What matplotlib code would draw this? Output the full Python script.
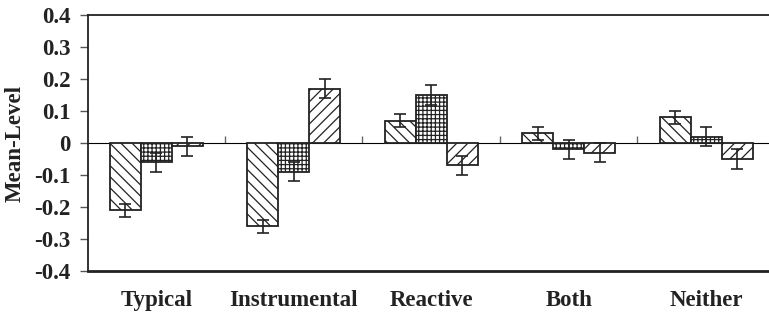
import matplotlib
matplotlib.use("Agg")
import matplotlib.pyplot as plt
import numpy as np

categories = ["Typical", "Instrumental", "Reactive", "Both", "Neither"]
series1 = [-0.21, -0.26, 0.07, 0.03, 0.08]
series2 = [-0.06, -0.09, 0.15, -0.02, 0.02]
series3 = [-0.01, 0.17, -0.07, -0.03, -0.05]
err1 = [0.02, 0.02, 0.02, 0.02, 0.02]
err2 = [0.03, 0.03, 0.03, 0.03, 0.03]
err3 = [0.03, 0.03, 0.03, 0.03, 0.03]
yticks = [0.4, 0.3, 0.2, 0.1, 0, -0.1, -0.2, -0.3, -0.4]
ytick_labels = ["0.4", "0.3", "0.2", "0.1", "0", "-0.1", "-0.2", "-0.3", "-0.4"]

plt.rcParams['font.family'] = ['Liberation Serif', 'DejaVu Serif']
plt.rcParams['hatch.linewidth'] = 0.9

fig = plt.figure(figsize=(7.69, 3.12), dpi=100)
ax = fig.add_axes([87.5/769, 1-271/312, (775-87.5)/769, (271-15)/312])

x = np.arange(len(categories))
w = 0.225
hatches = ['\\\\\\', '++++', '///']
for i, (vals, errs) in enumerate(zip([series1, series2, series3], [err1, err2, err3])):
    pos = x + (i - 1) * w
    ax.bar(pos, vals, w, color='white', edgecolor='#222222', linewidth=1.3,
           hatch=hatches[i], zorder=2)
    ax.errorbar(pos, vals, yerr=errs, fmt='none', ecolor='#222222', elinewidth=1.2,
                capsize=4.5, capthick=1.2, zorder=3)

ax.set_xlim(-0.5, len(categories) - 0.5)
ax.set_ylim(-0.4, 0.4)
ax.set_yticks(yticks)
ax.set_yticklabels(ytick_labels, fontsize=16.5, fontweight='bold', color='#222222')
ax.set_xticks(x)
ax.set_xticklabels(categories, fontsize=16.5, fontweight='bold', color='#222222')
ax.tick_params(axis='x', length=0, pad=14)
ax.tick_params(axis='y', length=6, width=1, color='#555555', pad=6)
ax.set_ylabel("Mean-Level", fontsize=16.5, fontweight='bold', labelpad=6, color='#222222')

for s in ['left', 'top']:
    ax.spines[s].set_linewidth(1.3)
    ax.spines[s].set_color('#222222')
ax.spines['bottom'].set_linewidth(2)
ax.spines['bottom'].set_color('#222222')
ax.spines['right'].set_visible(False)

sec = ax.secondary_xaxis(0.5)
sec.set_xticks(np.arange(len(categories) - 1) + 0.5)
sec.set_xticklabels([])
sec.tick_params(length=5, width=1, color='#666666', direction='out')
sec.spines['bottom'].set_color('#666666')
sec.spines['bottom'].set_linewidth(1)

fig.savefig("out.png", dpi=100)
